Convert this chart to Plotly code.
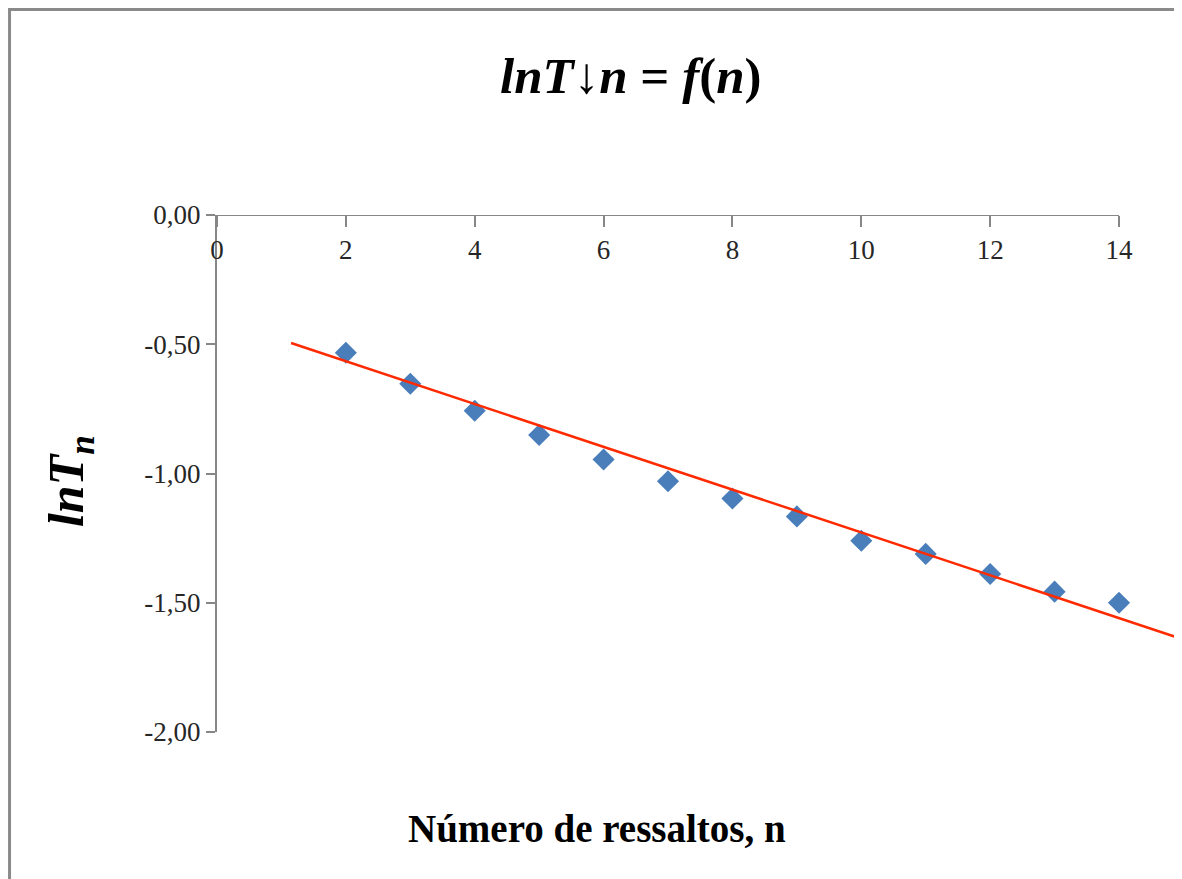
import numpy as np
import plotly.graph_objects as go

# ---- data ----
n_values = [2, 3, 4, 5, 6, 7, 8, 9, 10, 11, 12, 13, 14]
lnT_values = [-0.533, -0.653, -0.757, -0.851, -0.946, -1.030, -1.097,
              -1.166, -1.260, -1.311, -1.389, -1.457, -1.500]
x_tick_values = [0, 2, 4, 6, 8, 10, 12, 14]
y_tick_values = [0.0, -0.5, -1.0, -1.5, -2.0]
y_tick_labels = [f"{v:.2f}".replace(".", ",") for v in y_tick_values]
# linear trendline (as drawn in the reference)
trend_slope = -0.0828
trend_intercept = -0.400
trend_x_start = 1.15
trend_x_end = 14.87

trend_x = np.array([trend_x_start, trend_x_end])
trend_y = trend_intercept + trend_slope * trend_x

AXIS_GRAY = "#878787"
SERIF = "Liberation Serif, Times New Roman, serif"
TICK_COLOR = "#262626"
FIG_H = 871

fig = go.Figure()
fig.add_trace(go.Scatter(
    x=n_values, y=lnT_values, mode="markers",
    marker=dict(symbol="diamond", size=17, color="#4A7EBB",
                line=dict(width=0)),
    showlegend=False, cliponaxis=False,
))
fig.add_trace(go.Scatter(
    x=trend_x, y=trend_y, mode="lines",
    line=dict(color="#FF2A00", width=2.5),
    showlegend=False,
))

# x-axis line at y = 0 running from 0 to 14 only
fig.add_shape(type="line", xref="x", yref="y",
              x0=x_tick_values[0], x1=x_tick_values[-1], y0=0, y1=0,
              line=dict(color=AXIS_GRAY, width=2.2))
# chart frame
fig.add_shape(type="rect", xref="paper", yref="paper",
              x0=-0.2161, x1=1.03, y0=-0.35, y1=1.3975,
              line=dict(color="#8A8A8A", width=3), layer="below")

fig.update_layout(
    width=1174, height=FIG_H,
    margin=dict(l=209, r=5, t=207, b=FIG_H - 724),
    paper_bgcolor="white", plot_bgcolor="white",
    font=dict(family=SERIF, color=TICK_COLOR),
    title=dict(
        text="<b><i>lnT↓n</i> = <i>f</i>(<i>n</i>)</b>",
        x=0.431, xref="paper", xanchor="center",
        y=1 - 67 / FIG_H, yref="container", yanchor="middle",
        font=dict(family=SERIF, size=51, color="black"),
    ),
    xaxis=dict(
        range=[0, 14.9], side="bottom", anchor="free", position=1,
        tickvals=x_tick_values, ticktext=[str(v) for v in x_tick_values],
        ticks="outside", ticklen=11, tickwidth=2, tickcolor=AXIS_GRAY,
        showline=False, showgrid=False, zeroline=False,
        tickfont=dict(family=SERIF, size=27, color=TICK_COLOR),
    ),
    yaxis=dict(
        range=[-2, 0], domain=[0, 1],
        tickvals=y_tick_values, ticktext=y_tick_labels,
        ticks="outside", ticklen=9, tickwidth=2, tickcolor=AXIS_GRAY,
        showline=True, linecolor=AXIS_GRAY, linewidth=2.2,
        showgrid=False, zeroline=False,
        tickfont=dict(family=SERIF, size=27, color=TICK_COLOR),
    ),
    annotations=[
        dict(text="<b>Número de ressaltos, n</b>", xref="paper", yref="paper",
             x=0.396, y=-0.1857, xanchor="center", yanchor="middle",
             showarrow=False, font=dict(family=SERIF, size=39, color="black")),
        dict(text="<b><i>lnT<sub>n</sub></i></b>", xref="paper", yref="paper",
             x=-0.153, y=0.4855, xanchor="center", yanchor="middle",
             textangle=-90, showarrow=False,
             font=dict(family=SERIF, size=50, color="black")),
    ],
)

fig.write_html("out.html")
